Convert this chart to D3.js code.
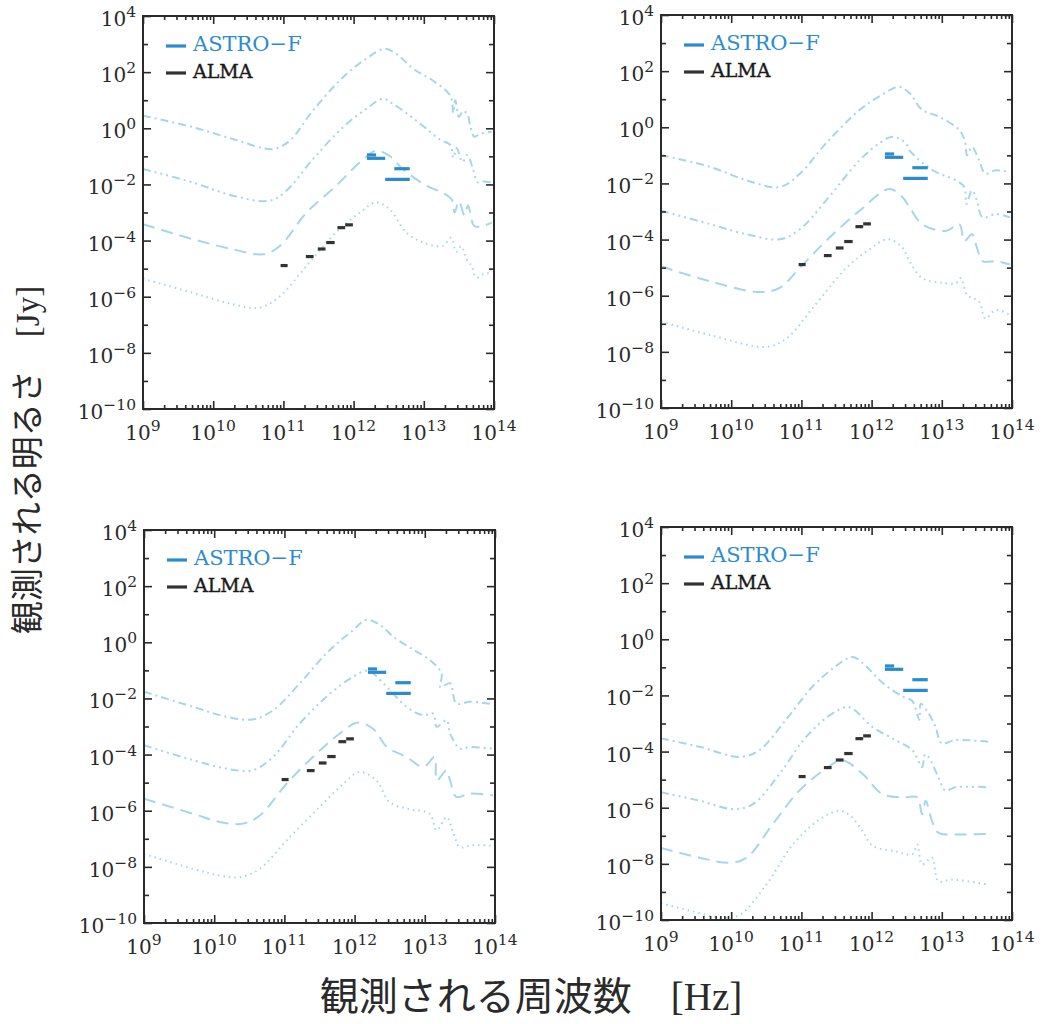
<!DOCTYPE html>
<html>
<head>
<meta charset="utf-8">
<script src="https://cdn.jsdelivr.net/npm/d3@7"></script>
<style>
  body { margin: 0; background: #ffffff; }
  svg { display: block; }
</style>
</head>
<body>
<svg id="fig" width="1044" height="1024"></svg>
<script>
// ---- axis ticks (powers of ten) ----
const xMajorExp = [9, 10, 11, 12, 13, 14];
const yMajorExp = [-10, -8, -6, -4, -2, 0, 2, 4];
const yMinorExp = [-9, -7, -5, -3, -1, 1, 3];

// ---- instrument sensitivities: log10 nu range [Hz] and log10 flux [Jy] ----
const almaNuLo  = [10.96, 11.32, 11.49, 11.61, 11.77, 11.88];
const almaNuHi  = [11.06, 11.43, 11.60, 11.73, 11.88, 11.99];
const almaLogS  = [-4.89, -4.57, -4.30, -4.07, -3.54, -3.44];

const astroNuLo = [12.19, 12.19, 12.58, 12.45];
const astroNuHi = [12.32, 12.45, 12.80, 12.80];
const astroLogS = [-0.95, -1.07, -1.44, -1.82];

// ---- model SEDs: [log10 nu (Hz), log10 S (Jy)] ----
// panel A (top left)
const sedA1 = [[9.0,0.45],[9.71,0.04],[10.28,-0.38],[10.85,-0.74],[11.09,-0.44],[11.42,0.63],[11.85,1.82],[12.18,2.48],[12.44,2.83],[12.61,2.65],[12.85,2.12],[13.13,1.70],[13.38,1.15],[13.42,0.55],[13.45,1.0],[13.5,0.4],[13.56,0.62],[13.62,0.5],[13.67,0.0],[13.72,-0.3],[13.8,-0.2],[13.97,-0.12]];
const sedA2 = [[9.0,-1.45],[9.71,-1.93],[10.28,-2.4],[10.80,-2.58],[11.04,-2.23],[11.42,-1.10],[11.85,0.04],[12.18,0.69],[12.42,1.05],[12.56,0.87],[12.80,0.45],[13.04,-0.02],[13.23,-0.4],[13.38,-0.6],[13.42,-1.05],[13.47,-0.7],[13.55,-1.2],[13.62,-0.95],[13.70,-1.45],[13.77,-1.93],[13.85,-1.9],[13.97,-1.93]];
const sedA3 = [[9.0,-3.42],[9.71,-3.95],[10.28,-4.31],[10.71,-4.49],[10.95,-4.19],[11.33,-3.0],[11.75,-2.05],[12.09,-1.21],[12.32,-0.80],[12.51,-0.98],[12.70,-1.45],[13.04,-2.05],[13.27,-2.3],[13.40,-2.55],[13.44,-3.0],[13.5,-2.6],[13.58,-3.1],[13.63,-2.75],[13.72,-3.48],[13.84,-3.48],[13.97,-3.36]];
const sedA4 = [[9.0,-5.36],[9.71,-5.86],[10.28,-6.27],[10.66,-6.39],[10.95,-5.98],[11.33,-4.9],[11.75,-3.71],[12.09,-3.0],[12.32,-2.64],[12.51,-2.88],[12.75,-3.71],[12.99,-4.07],[13.27,-4.19],[13.39,-3.9],[13.46,-4.4],[13.53,-4.2],[13.61,-4.67],[13.68,-4.9],[13.75,-5.32],[13.85,-5.2],[13.97,-5.14]];
// panel B (top right)
const sedB1 = [[9.0,-0.99],[9.70,-1.41],[10.22,-1.89],[10.69,-2.13],[10.98,-1.65],[11.35,-0.57],[11.83,0.62],[12.11,1.10],[12.39,1.44],[12.54,1.22],[12.72,0.62],[12.96,0.38],[13.25,-0.10],[13.33,-0.5],[13.36,-1.0],[13.43,-0.70],[13.53,-1.17],[13.62,-1.65],[13.77,-1.53],[13.97,-1.6]];
const sedB2 = [[9.0,-2.97],[9.70,-3.45],[10.22,-3.81],[10.69,-3.99],[10.98,-3.63],[11.35,-2.61],[11.83,-1.17],[12.11,-0.57],[12.30,-0.34],[12.49,-0.57],[12.54,-0.82],[12.87,-1.53],[13.20,-1.89],[13.32,-2.13],[13.35,-2.73],[13.43,-2.25],[13.50,-2.61],[13.58,-3.21],[13.77,-3.09],[13.97,-3.21]];
const sedB3 = [[9.0,-4.95],[9.70,-5.49],[10.41,-5.87],[10.69,-5.72],[10.98,-5.0],[11.35,-4.05],[11.83,-2.97],[12.25,-2.2],[12.44,-2.49],[12.54,-2.85],[12.72,-3.45],[13.06,-3.69],[13.25,-3.45],[13.32,-4.05],[13.43,-3.81],[13.50,-4.29],[13.58,-4.77],[13.77,-4.77],[13.97,-4.89]];
const sedB4 = [[9.0,-6.92],[9.70,-7.40],[10.50,-7.82],[10.79,-7.52],[11.16,-6.44],[11.64,-5.01],[11.97,-4.35],[12.23,-3.99],[12.44,-4.29],[12.54,-4.77],[12.72,-5.37],[13.01,-5.54],[13.20,-5.55],[13.27,-5.37],[13.36,-5.97],[13.53,-6.21],[13.62,-6.81],[13.77,-6.51],[13.97,-6.69]];
// panel C (bottom left)
const sedC1 = [[9.0,-1.76],[9.70,-2.30],[10.17,-2.65],[10.55,-2.75],[10.84,-2.42],[11.22,-1.46],[11.60,-0.39],[11.98,0.44],[12.17,0.80],[12.36,0.62],[12.55,0.20],[12.84,-0.27],[13.07,-0.63],[13.24,-1.11],[13.22,-1.6],[13.36,-1.46],[13.45,-2.18],[13.64,-2.12],[13.97,-2.2]];
const sedC2 = [[9.0,-3.67],[9.70,-4.20],[10.17,-4.50],[10.55,-4.56],[10.84,-4.08],[11.22,-2.89],[11.60,-1.94],[11.98,-1.23],[12.19,-1.01],[12.41,-1.46],[12.74,-2.30],[12.98,-2.6],[13.12,-2.54],[13.17,-3.01],[13.31,-2.77],[13.36,-3.25],[13.50,-3.79],[13.64,-3.73],[13.97,-3.79]];
const sedC3 = [[9.0,-5.57],[9.70,-6.11],[10.08,-6.40],[10.41,-6.46],[10.65,-6.17],[11.03,-5.04],[11.41,-4.08],[11.79,-3.25],[12.05,-2.86],[12.27,-3.1],[12.46,-3.73],[12.74,-4.09],[12.98,-4.44],[13.14,-4.09],[13.17,-4.92],[13.31,-4.56],[13.36,-4.92],[13.45,-5.51],[13.64,-5.39],[13.97,-5.45]];
const sedC4 = [[9.0,-7.54],[9.70,-8.07],[10.08,-8.31],[10.36,-8.37],[10.65,-8.07],[11.03,-7.06],[11.50,-5.87],[11.84,-5.04],[12.07,-4.62],[12.31,-4.92],[12.50,-5.7],[12.79,-5.95],[13.07,-6.11],[13.17,-6.70],[13.31,-6.23],[13.41,-6.82],[13.50,-7.30],[13.64,-7.24],[13.97,-7.24]];
// panel D (bottom right)
const sedD1 = [[9.0,-3.53],[9.55,-3.83],[10.12,-4.19],[10.40,-3.95],[10.78,-2.87],[11.16,-1.68],[11.49,-0.96],[11.73,-0.63],[11.92,-0.96],[12.16,-1.56],[12.44,-2.04],[12.58,-2.2],[12.68,-2.87],[12.70,-2.3],[12.81,-2.63],[12.91,-3.12],[13.00,-3.71],[13.19,-3.59],[13.66,-3.65]];
const sedD2 = [[9.0,-5.45],[9.55,-5.75],[10.03,-6.05],[10.31,-5.87],[10.69,-4.79],[11.07,-3.47],[11.45,-2.63],[11.68,-2.42],[12.01,-3.12],[12.34,-3.59],[12.58,-3.95],[12.72,-4.55],[12.76,-4.1],[12.81,-4.19],[12.95,-4.91],[13.05,-5.39],[13.19,-5.27],[13.66,-5.27]];
const sedD3 = [[9.0,-7.43],[9.55,-7.78],[9.98,-7.96],[10.22,-7.78],[10.59,-6.59],[10.97,-5.39],[11.35,-4.61],[11.58,-4.31],[11.87,-4.79],[12.15,-5.51],[12.48,-5.63],[12.65,-5.63],[12.72,-6.23],[12.77,-5.75],[12.86,-6.47],[12.95,-6.89],[13.19,-6.95],[13.66,-6.93]];
const sedD4 = [[9.0,-9.40],[9.46,-9.70],[9.84,-9.92],[10.12,-9.82],[10.50,-8.74],[10.88,-7.31],[11.26,-6.41],[11.54,-6.11],[11.68,-6.25],[11.87,-6.83],[12.01,-7.35],[12.34,-7.55],[12.58,-7.66],[12.65,-7.31],[12.72,-8.02],[12.86,-7.78],[12.95,-8.62],[13.14,-8.56],[13.66,-8.74]];

// ---- layout ----
const W = 351, H = 393;
const panels = [
  { left: 143, top: 16,  seds: [sedA1, sedA2, sedA3, sedA4] },
  { left: 661, top: 15,  seds: [sedB1, sedB2, sedB3, sedB4] },
  { left: 144, top: 530, seds: [sedC1, sedC2, sedC3, sedC4] },
  { left: 661, top: 527, seds: [sedD1, sedD2, sedD3, sedD4] }
];

const sedColor = "#a6d6ec";
const dashes = ["8,4,2,4", "8,4,2,4,2,4,2,4", "12,7", "1.5,4"];
const astroColor = "#2b8ccd";
const almaColor = "#333333";
const inkColor = "#2a2a2a";
const numFont = "'DejaVu Serif', 'Liberation Serif', serif";

const svg = d3.select("#fig");
svg.append("rect").attr("width", 1044).attr("height", 1024).attr("fill", "#ffffff");

const pow10 = e => Math.pow(10, e);
const xMinorVals = [];
for (let e = 9; e < 14; e++) for (let m = 2; m <= 9; m++) xMinorVals.push(m * pow10(e));

function powerLabel(sel, exp, baseSize, supSize, supShift) {
  sel.append("tspan").text("10").attr("font-size", baseSize);
  sel.append("tspan").text(exp < 0 ? "\u2212" + (-exp) : String(exp))
    .attr("font-size", supSize).attr("dy", -supShift);
}

panels.forEach((p, pi) => {
  const g = svg.append("g").attr("transform", `translate(${p.left},${p.top})`);
  const x = d3.scaleLog().domain([1e9, 1e14]).range([0, W]);
  const y = d3.scaleLog().domain([1e-10, 1e4]).range([H, 0]);

  const clipId = "clip" + pi;
  g.append("clipPath").attr("id", clipId)
    .append("rect").attr("width", W).attr("height", H);

  // model curves
  const line = d3.line()
    .x(d => x(pow10(d[0])))
    .y(d => y(pow10(d[1])))
    .curve(d3.curveCatmullRom.alpha(0.5));
  const cg = g.append("g").attr("clip-path", `url(#${clipId})`);
  p.seds.forEach((s, i) => {
    cg.append("path").datum(s).attr("d", line)
      .attr("fill", "none").attr("stroke", sedColor)
      .attr("stroke-width", 2).attr("stroke-dasharray", dashes[i]);
  });

  // ALMA sensitivities
  almaLogS.forEach((v, i) => {
    g.append("line")
      .attr("x1", x(pow10(almaNuLo[i]))).attr("x2", x(pow10(almaNuHi[i])))
      .attr("y1", y(pow10(v))).attr("y2", y(pow10(v)))
      .attr("stroke", almaColor).attr("stroke-width", 3.2);
  });
  // ASTRO-F sensitivities
  astroLogS.forEach((v, i) => {
    g.append("line")
      .attr("x1", x(pow10(astroNuLo[i]))).attr("x2", x(pow10(astroNuHi[i])))
      .attr("y1", y(pow10(v))).attr("y2", y(pow10(v)))
      .attr("stroke", astroColor).attr("stroke-width", 3.2);
  });

  // ticks on all four sides, pointing inward
  const tickStyle = sel => {
    sel.select(".domain").remove();
    sel.selectAll(".tick line").attr("stroke", inkColor).attr("stroke-width", 1.6);
    sel.selectAll(".tick text").remove();
  };
  const xMaj = xMajorExp.map(pow10), yMaj = yMajorExp.map(pow10), yMin = yMinorExp.map(pow10);
  g.append("g").attr("transform", `translate(0,${H})`)
    .call(d3.axisBottom(x).tickValues(xMinorVals).tickSize(-4)).call(tickStyle);
  g.append("g").attr("transform", `translate(0,${H})`)
    .call(d3.axisBottom(x).tickValues(xMaj).tickSize(-8)).call(tickStyle);
  g.append("g").call(d3.axisTop(x).tickValues(xMinorVals).tickSize(-4)).call(tickStyle);
  g.append("g").call(d3.axisTop(x).tickValues(xMaj).tickSize(-8)).call(tickStyle);
  g.append("g").call(d3.axisLeft(y).tickValues(yMaj).tickSize(-8)).call(tickStyle);
  g.append("g").call(d3.axisLeft(y).tickValues(yMin).tickSize(-5)).call(tickStyle);
  g.append("g").attr("transform", `translate(${W},0)`)
    .call(d3.axisRight(y).tickValues(yMaj).tickSize(-8)).call(tickStyle);
  g.append("g").attr("transform", `translate(${W},0)`)
    .call(d3.axisRight(y).tickValues(yMin).tickSize(-5)).call(tickStyle);

  // frame
  g.append("rect").attr("width", W).attr("height", H)
    .attr("fill", "none").attr("stroke", inkColor).attr("stroke-width", 2);

  // tick labels
  xMajorExp.forEach(e => {
    const t = g.append("text").attr("x", x(pow10(e))).attr("y", H + 31)
      .attr("text-anchor", "middle").attr("font-family", numFont).attr("fill", inkColor);
    powerLabel(t, e, 20, 15.5, 9);
  });
  yMajorExp.forEach(e => {
    const t = g.append("text").attr("x", -7).attr("y", y(pow10(e)) + 10)
      .attr("text-anchor", "end").attr("font-family", numFont).attr("fill", inkColor);
    powerLabel(t, e, 20, 15.5, 9);
  });

  // legend
  const lg = g.append("g");
  lg.append("line").attr("x1", 23).attr("x2", 43).attr("y1", 30).attr("y2", 30)
    .attr("stroke", astroColor).attr("stroke-width", 3.2);
  lg.append("text").attr("x", 50).attr("y", 35).attr("font-family", numFont)
    .attr("font-size", 21).attr("fill", astroColor).text("ASTRO\u2212F");
  lg.append("line").attr("x1", 23).attr("x2", 43).attr("y1", 57).attr("y2", 57)
    .attr("stroke", almaColor).attr("stroke-width", 3.2);
  lg.append("text").attr("x", 50).attr("y", 62).attr("font-family", numFont)
    .attr("font-size", 19).attr("fill", "#1a1a1a").attr("stroke", "#1a1a1a")
    .attr("stroke-width", 0.4).text("ALMA");
});

// axis titles
const yTitle = svg.append("text")
  .attr("transform", "translate(39,460) rotate(-90)")
  .attr("text-anchor", "middle").attr("fill", inkColor);
yTitle.append("tspan").attr("font-family", "'Noto Sans CJK JP', sans-serif")
  .attr("font-size", 33).text("観測される明るさ\u3000");
yTitle.append("tspan").attr("font-family", "'Liberation Serif', serif")
  .attr("font-size", 33).text("[Jy]");

const xTitle = svg.append("text")
  .attr("x", 531).attr("y", 1010)
  .attr("text-anchor", "middle").attr("fill", inkColor);
xTitle.append("tspan").attr("font-family", "'Noto Sans CJK JP', sans-serif")
  .attr("font-size", 39).text("観測される周波数\u3000");
xTitle.append("tspan").attr("font-family", "'Liberation Serif', serif")
  .attr("font-size", 39).text("[Hz]");
</script>
</body>
</html>
